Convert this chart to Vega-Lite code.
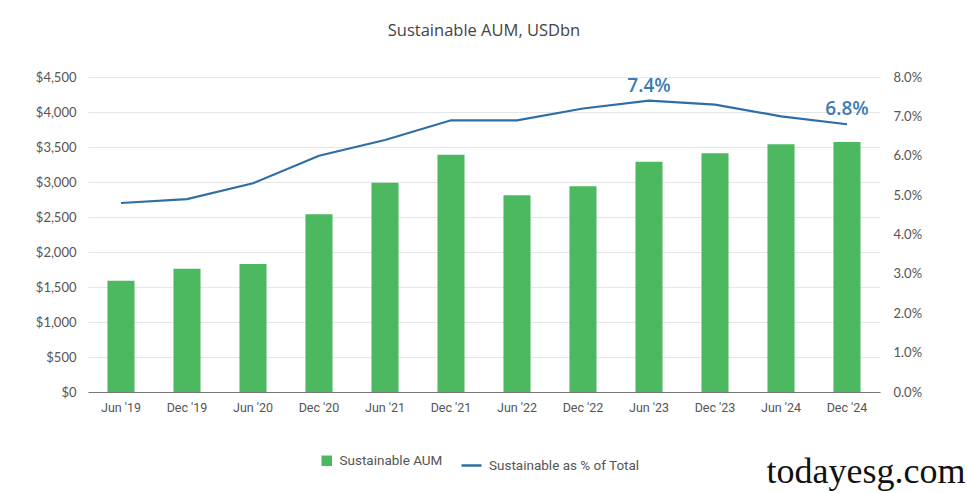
{
  "$schema": "https://vega.github.io/schema/vega-lite/v6.json",
  "width": 792,
  "height": 315,
  "autosize": "none",
  "padding": {"left": 88, "top": 77, "right": 87, "bottom": 101},
  "background": "white",
  "config": {"view": {"stroke": null}},
  "title": {"text": "Sustainable AUM, USDbn", "font": "Open Sans", "fontSize": 16.5, "fontWeight": "normal", "color": "#444444", "offset": 32},
  "data": {"values": [
    {"period": "Jun '19", "aum": 1590, "pct": 0.048},
    {"period": "Dec '19", "aum": 1760, "pct": 0.049},
    {"period": "Jun '20", "aum": 1830, "pct": 0.053},
    {"period": "Dec '20", "aum": 2540, "pct": 0.060},
    {"period": "Jun '21", "aum": 2990, "pct": 0.064},
    {"period": "Dec '21", "aum": 3390, "pct": 0.069},
    {"period": "Jun '22", "aum": 2810, "pct": 0.069},
    {"period": "Dec '22", "aum": 2940, "pct": 0.072},
    {"period": "Jun '23", "aum": 3290, "pct": 0.074, "label": "7.4%"},
    {"period": "Dec '23", "aum": 3410, "pct": 0.073},
    {"period": "Jun '24", "aum": 3540, "pct": 0.070},
    {"period": "Dec '24", "aum": 3570, "pct": 0.068, "label": "6.8%"}
  ]},
  "encoding": {
    "x": {
      "field": "period", "type": "nominal", "sort": null,
      "scale": {"paddingInner": 0.59, "paddingOuter": 0.295},
      "axis": {
        "labelAngle": 0, "ticks": false, "labelPadding": 9, "domainColor": "#777777", "domainWidth": 1,
        "labelFont": "Roboto", "labelFontSize": 12.5, "labelColor": "#555555",
        "title": "todayesg.com", "titleFont": "Liberation Serif", "titleFontSize": 36, "titleFontWeight": "normal",
        "titleColor": "#111111", "titleX": 877, "titleY": 90, "titleAlign": "right", "titleBaseline": "alphabetic", "titleAnchor": null
      }
    }
  },
  "layer": [
    {
      "mark": {"type": "bar"},
      "encoding": {
        "y": {
          "field": "aum", "type": "quantitative",
          "scale": {"domain": [0, 4500], "nice": false},
          "axis": {
            "values": [0, 500, 1000, 1500, 2000, 2500, 3000, 3500, 4000, 4500],
            "format": "$,.0f", "title": null, "domain": false, "ticks": false, "labelPadding": 12,
            "gridColor": "#e6e6e6", "gridWidth": 1, "labelFont": "Lato", "labelFontSize": 13, "labelColor": "#555555"
          }
        },
        "fill": {
          "datum": "Sustainable AUM", "type": "nominal",
          "scale": {"range": ["#4cb85f"]},
          "legend": {
            "orient": "none", "legendX": 232, "legendY": 377, "title": null, "symbolType": "square", "symbolSize": 110,
            "labelFont": "Roboto", "labelFontSize": 13.5, "labelColor": "#555555", "labelOffset": 6, "symbolStrokeWidth": 0
          }
        }
      }
    },
    {
      "encoding": {
        "y": {
          "field": "pct", "type": "quantitative",
          "scale": {"domain": [0, 0.08], "nice": false},
          "axis": {
            "orient": "right", "values": [0, 0.01, 0.02, 0.03, 0.04, 0.05, 0.06, 0.07, 0.08],
            "format": ".1%", "title": null, "domain": false, "ticks": false, "grid": false, "labelPadding": 13,
            "labelFont": "Lato", "labelFontSize": 13, "labelColor": "#555555"
          }
        }
      },
      "layer": [
        {
          "mark": {"type": "line", "strokeWidth": 2.2},
          "encoding": {
            "stroke": {
              "datum": "Sustainable as % of Total", "type": "nominal",
              "scale": {"range": ["#2f6ea5"]},
              "legend": {
                "orient": "none", "legendX": 372, "legendY": 377, "title": null, "symbolType": "stroke", "symbolSize": 400,
                "symbolStrokeWidth": 2.5, "labelFont": "Roboto", "labelFontSize": 13.5, "labelColor": "#555555", "labelOffset": 6
              }
            }
          }
        },
        {
          "transform": [{"filter": "datum.label != null"}],
          "mark": {"type": "text", "baseline": "bottom", "dy": -5, "fontSize": 19, "fontWeight": 600, "font": "Open Sans", "color": "#3d7ab3"},
          "encoding": {"text": {"field": "label"}}
        }
      ]
    }
  ],
  "resolve": {"scale": {"y": "independent"}}
}
